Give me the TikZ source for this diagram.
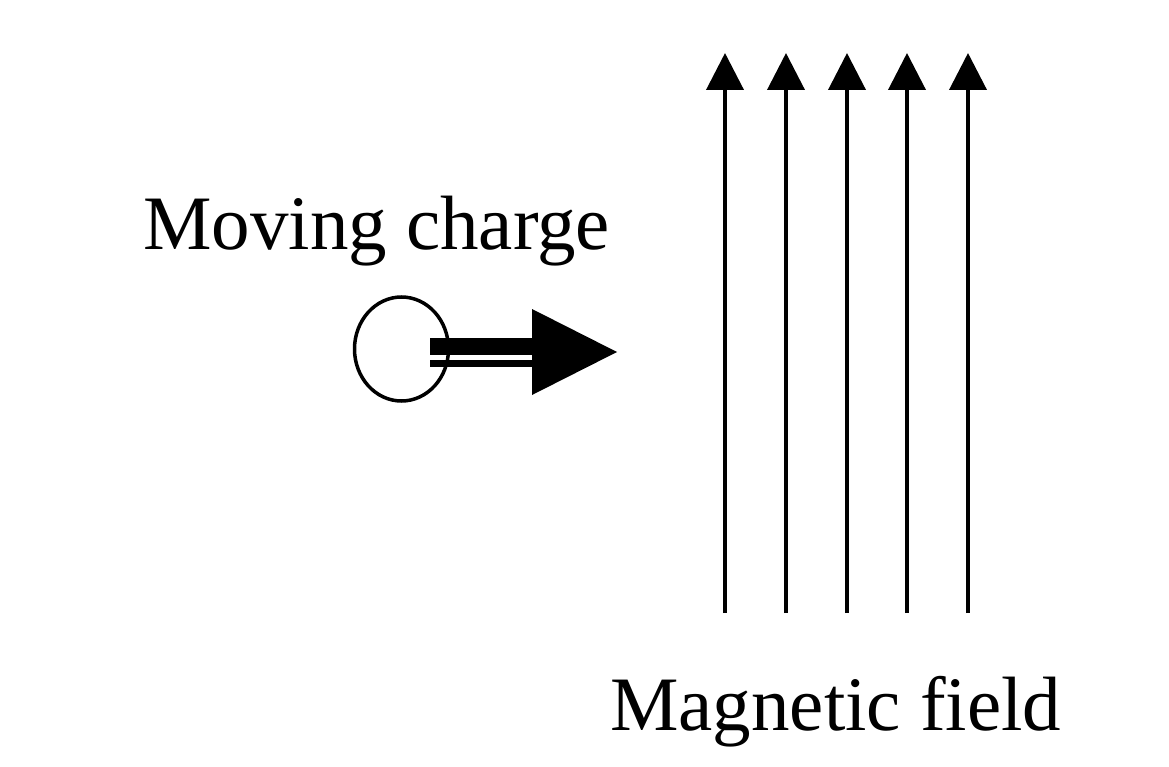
\documentclass[tikz,border=0pt]{standalone}
\usepackage{fontspec}
\setmainfont{Liberation Serif}
\usepackage{xcolor}
\usepackage{tikz}
\usetikzlibrary{arrows.meta,positioning,shapes.geometric}
\definecolor{ink}{HTML}{000000}
\tikzset{
  caption/.style ={inner sep=0pt,anchor=base west,text=ink,
                   font=\fontsize{77}{90}\selectfont},
  chargering/.style={ellipse,draw=ink,line width=3.5pt,
                   minimum width=94pt,minimum height=104pt,inner sep=0pt},
  fieldline/.style={-{Triangle[length=37pt,width=37pt]},line width=4pt,draw=ink},
  shaft/.style   ={fill=ink}
}

\begin{document}
\begin{tikzpicture}[x=1pt,y=-1pt]
        \useasboundingbox (0,0) rectangle (1169,767);
        % moving charge
        \node[caption] (mc) at (143,250) {Moving charge};
        \node[chargering] (charge) at (401.5,349) {};
        \coordinate (tail) at (430,352);
        \coordinate (tip)  at (617,352);
        \fill[shaft] (tail) ++(0,-14) rectangle (532,355);
        \fill[shaft] (tail) ++(0,8) rectangle (532,367);
        \fill[shaft] (532,309) -- (tip) -- (532,395) -- cycle;
        % field lines
        \foreach \i/\x in {1/725,2/786,3/847,4/907,5/968}{
          \coordinate (fb\i) at (\x,613);
          \coordinate (ft\i) at (\x,53);
          \draw[fieldline] (fb\i) -- (ft\i);
        }
        \node[caption] (mf) at (610,730) {Magnetic field};
      \end{tikzpicture}
\end{document}
